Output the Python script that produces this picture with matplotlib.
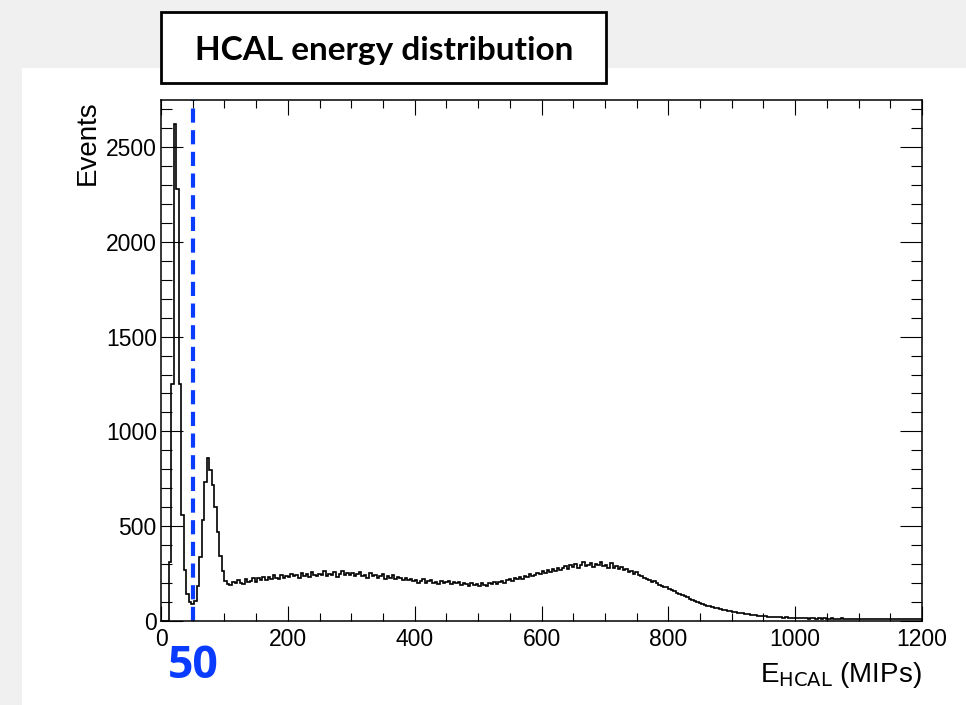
import numpy as np
import matplotlib
matplotlib.use("Agg")
import matplotlib.pyplot as plt
from matplotlib.patches import Rectangle

# histogram contents, 4-MIP bins from 0 to 1200 (one row = 100 MIPs)
bin_width = 4
counts = [
    0, 0, 0, 310, 1250, 2620, 2280, 1250, 560, 270, 145, 98, 92, 105, 185, 335, 535, 735, 862, 795, 715, 600, 470, 345, 262,
    212, 196, 188, 207, 199, 214, 203, 196, 221, 208, 213, 229, 207, 226, 218, 233, 215, 231, 222, 240, 226, 219, 245, 228, 236,
    231, 248, 236, 243, 229, 252, 238, 246, 233, 258, 241, 235, 250, 244, 262, 237, 249, 241, 256, 233, 247, 265, 240, 251, 244,
    253, 238, 249, 261, 235, 244, 229, 251, 236, 242, 227, 238, 246, 224, 235, 229, 241, 219, 232, 225, 214, 228, 218, 223, 209,
    217, 203, 212, 221, 198, 209, 216, 201, 207, 194, 213, 199, 205, 211, 193, 204, 198, 207, 189, 201, 195, 186, 203, 192, 197,
    185, 198, 191, 184, 200, 193, 206, 197, 204, 212, 198, 215, 222, 209, 227, 219, 232, 224, 238, 230, 247, 236, 243, 255, 249,
    263, 251, 268, 259, 274, 266, 281, 270, 277, 288, 272, 293, 284, 302, 279, 296, 311, 289, 298, 306, 285, 303, 294, 309, 291,
    298, 282, 305, 279, 290, 272, 284, 268, 276, 258, 263, 249, 256, 241, 236, 229, 222, 215, 208, 212, 198, 192, 186, 178, 181,
    170, 163, 158, 150, 144, 139, 131, 126, 118, 113, 105, 101, 94, 90, 86, 81, 78, 74, 69, 68, 63, 60, 58, 55, 52,
    50, 47, 44, 43, 40, 37, 35, 33, 32, 30, 29, 27, 26, 24, 23, 22, 22, 20, 21, 19, 18, 19, 17, 18, 16,
    17, 15, 16, 14, 15, 13, 16, 14, 13, 15, 12, 14, 13, 12, 14, 11, 13, 12, 14, 11, 12, 13, 11, 12, 10,
    12, 11, 10, 12, 11, 9, 11, 10, 12, 10, 9, 11, 10, 9, 11, 10, 8, 10, 9, 11, 9, 10, 8, 9, 10,
]
cut_value = 50
title = "HCAL energy distribution"

W, H = 966, 705
fig = plt.figure(figsize=(W / 100, H / 100), dpi=100)
fig.patch.set_facecolor("#f0f0f0")

# white panel behind the plot
fig.patches.append(Rectangle((22 / W, 0), 1 - 22 / W, (H - 68) / H,
                             transform=fig.transFigure, facecolor="white",
                             edgecolor="none", zorder=-5))

ax = fig.add_axes([161 / W, 1 - 621 / H, (922 - 161) / W, (621 - 100) / H])
ax.set_facecolor("white")

edges = np.arange(len(counts) + 1) * bin_width
ax.stairs(counts, edges, color="black", lw=1.2)
ax.axvline(cut_value, color="#0a3cff", lw=3.0, linestyle=(0, (3.4, 1.8)))

ax.set_xlim(0, 1200)
ax.set_ylim(0, 2748)
ax.set_xticks(np.arange(0, 1201, 200))
ax.set_xticks(np.arange(0, 1201, 50), minor=True)
ax.set_yticks(np.arange(0, 2501, 500))
ax.set_yticks(np.arange(0, 2701, 100), minor=True)

for s in ax.spines.values():
    s.set_linewidth(1.1)

ax.tick_params(axis="both", which="both", direction="in", top=True, right=True,
               width=0.8, labelsize=16.5, labelfontfamily="Liberation Sans")
ax.tick_params(axis="x", which="major", length=10.8, pad=5)
ax.tick_params(axis="x", which="minor", length=5.6)
ax.tick_params(axis="y", which="major", length=15.8, pad=3)
ax.tick_params(axis="y", which="minor", length=7.9)

fig.text(922 / W, 1 - 682 / H, r"E$_{\mathrm{HCAL}}$ (MIPs)", ha="right",
         va="baseline", fontsize=20, family="Liberation Sans")
fig.text(101 / W, 1 - 100 / H, "Events", rotation=90, ha="right", va="top",
         fontsize=20, family="Liberation Sans")

# title box
fig.patches.append(Rectangle((161 / W, 1 - 83 / H), (606 - 161) / W, (83 - 12) / H,
                             transform=fig.transFigure, facecolor="white",
                             edgecolor="black", lw=2.0, zorder=3))
fig.text(384 / W, 1 - 60 / H, title, ha="center", va="baseline", fontsize=24,
         fontweight="bold", family="Lato", zorder=4)

fig.text(193 / W, 1 - 667 / H, str(cut_value), ha="center", va="center",
         fontsize=32, fontweight="bold", family="Open Sans", color="#0a3cff")

fig.savefig("out.png", dpi=100, facecolor=fig.get_facecolor())
